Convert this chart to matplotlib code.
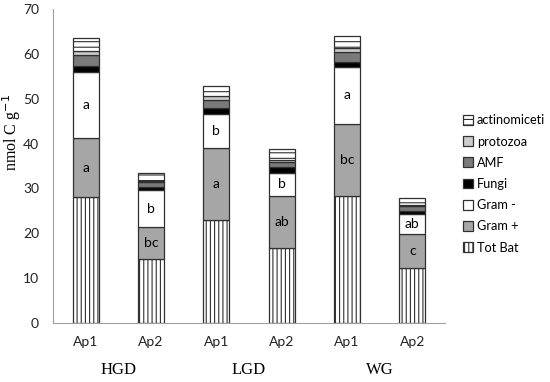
import matplotlib
matplotlib.use('Agg')
import matplotlib.pyplot as plt
import numpy as np

plt.rcParams['font.family'] = ['Lato', 'DejaVu Sans']
plt.rcParams['hatch.linewidth'] = 0.8

# data (nmol C g-1)
sites = ['HGD', 'LGD', 'WG']
bars = ['Ap1', 'Ap2', 'Ap1', 'Ap2', 'Ap1', 'Ap2']
tot_bat = [28.0, 14.3, 23.0, 16.7, 28.3, 12.3]
gram_pos = [13.2, 7.1, 16.0, 11.6, 16.1, 7.5]
gram_neg = [14.8, 8.2, 7.5, 5.2, 12.7, 4.5]
fungi = [1.3, 0.8, 1.5, 1.3, 1.0, 0.7]
amf = [2.5, 1.0, 1.8, 1.2, 2.3, 1.0]
protozoa = [0.8, 0.3, 0.8, 0.4, 0.8, 0.4]
actino = [2.9, 1.7, 2.2, 2.3, 2.8, 1.4]
gram_neg_letters = ['a', 'b', 'b', 'b', 'a', 'ab']
gram_pos_letters = ['a', 'bc', 'a', 'ab', 'bc', 'c']

series = [
    ('Tot Bat', tot_bat, 'white', '||||'),
    ('Gram +', gram_pos, '#a6a6a6', None),
    ('Gram -', gram_neg, 'white', None),
    ('Fungi', fungi, 'black', None),
    ('AMF', amf, '#7a7a7a', None),
    ('protozoa', protozoa, '#cccccc', None),
    ('actinomiceti', actino, 'white', '---'),
]

fig = plt.figure(figsize=(5.5, 3.82), dpi=100)
ax = fig.add_axes([53 / 550, 1 - 323 / 382, 392 / 550, 314 / 382])

x = np.arange(len(bars))
bottom = np.zeros(len(bars))
handles = []
for name, vals, color, hatch in series:
    vals = np.array(vals)
    h = ax.bar(x, vals, 0.4, bottom=bottom, color=color, hatch=hatch,
               edgecolor='#303030', linewidth=0.9, label=name)
    handles.append(h)
    if name == 'Gram +':
        for xi, b, v, t in zip(x, bottom, vals, gram_pos_letters):
            ax.text(xi, b + v / 2, t, ha='center', va='center', fontsize=10)
    if name == 'Gram -':
        for xi, b, v, t in zip(x, bottom, vals, gram_neg_letters):
            ax.text(xi, b + v / 2, t, ha='center', va='center', fontsize=10)
    bottom += vals

ax.set_xlim(-0.5, 5.5)
ax.set_ylim(0, 70)
ax.set_yticks(range(0, 71, 10))
ax.set_xticks(x)
ax.set_xticklabels(bars)
ax.tick_params(axis='both', length=0, labelsize=10, colors='#222222')
ax.tick_params(axis='x', pad=9)
ax.tick_params(axis='y', pad=10)
for s in ['top', 'right']:
    ax.spines[s].set_visible(False)
for s in ['left', 'bottom']:
    ax.spines[s].set_color('#a0a0a0')

for i, name in enumerate(sites):
    ax.text(2 * i + 0.5, -0.15, name, transform=ax.get_xaxis_transform(),
            ha='center', va='center', fontsize=12, family='Liberation Serif')

fig.text(12 / 550, 1 - 132 / 382, 'nmol C g$^{-1}$', rotation=90, ha='center',
         va='center', fontsize=11.5, family='Liberation Serif')

leg = fig.legend(handles[::-1], [s[0] for s in series][::-1],
                 loc='center left', bbox_to_anchor=(463 / 550, 1 - 184 / 382),
                 frameon=False, fontsize=9.2, handlelength=0.8,
                 handleheight=0.8, handletextpad=0.3, labelspacing=0.72,
                 borderaxespad=0, borderpad=0)

fig.savefig('out.png', dpi=100)
